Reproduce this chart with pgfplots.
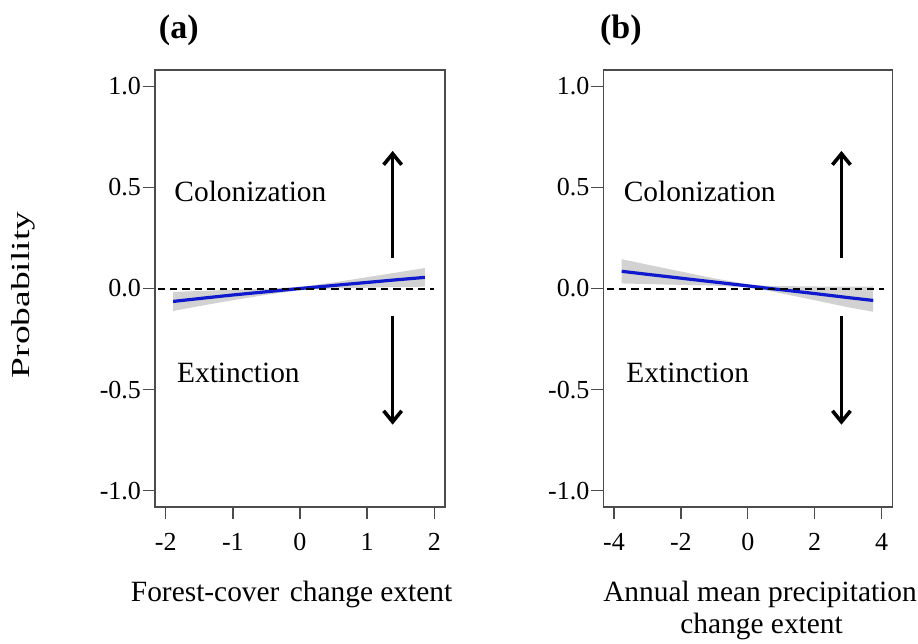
\documentclass[border=0pt]{standalone}
\usepackage{fontspec}
\setmainfont{Liberation Serif}
\usepackage{pgfplots}
\pgfplotsset{compat=1.18}
\usetikzlibrary{arrows.meta}
\definecolor{bandgray}{RGB}{210,210,210}
\definecolor{lineblue}{RGB}{15,25,205}
\tikzset{txt/.style={font=\fontsize{14.7}{17}\selectfont}}
\pgfplotsset{
  rstyle/.style={
    scale only axis, anchor=south west,
    height=218.5pt, ymin=-1.08, ymax=1.08,
    ytick={-1,-0.5,0,0.5,1}, yticklabels={-1.0,-0.5,0.0,0.5,1.0},
    tick align=outside, tick pos=left,
    major tick length=6pt,
    axis line style={black!70, line width=0.65pt},
    tick style={black!70, line width=0.65pt},
    ticklabel style={font=\fontsize{13}{15}\selectfont},
    yticklabel style={inner xsep=0.8pt},
    xticklabel style={inner ysep=0pt, yshift=-7pt},
  },
}
\begin{document}
\begin{tikzpicture}[x=1pt,y=1pt]
\path[use as bounding box] (0,0) rectangle (459,322);

% ---------- panel (a)
\begin{axis}[rstyle, at={(77.5pt,68.5pt)}, width=145pt,
  xmin=-2.16, xmax=2.16, xtick={-2,-1,0,1,2}, xticklabels={-2,-1,0,1,2}]
\addplot[fill=bandgray, draw=none] coordinates {
  (-1.89,-0.017) (-1.4,-0.011) (-1,-0.006) (-0.5,-0.001) (0,0.008)
  (0.5,0.030) (1,0.056) (1.4,0.077) (1.86,0.101)
  (1.86,0.009) (1.4,0.007) (1,0.004) (0.5,0.000) (0,-0.008)
  (-0.5,-0.031) (-1,-0.058) (-1.4,-0.081) (-1.89,-0.111)} -- cycle;
\addplot[lineblue, line width=1.6pt] coordinates {
  (-1.89,-0.064) (-1.4,-0.046) (-1,-0.032) (-0.5,-0.016) (0,0.0)
  (0.5,0.015) (1,0.030) (1.4,0.042) (1.86,0.055)};
\addplot[black, line width=1pt, dash pattern=on 3.7pt off 2.5pt] coordinates {(-2.12,0) (2.0,0)};
\addplot[black, line width=1.8pt, -{Straight Barb[length=5.5pt,width=9pt]}] coordinates {(1.38,0.15) (1.38,0.68)};
\addplot[black, line width=1.8pt, -{Straight Barb[length=5.5pt,width=9pt]}] coordinates {(1.38,-0.137) (1.38,-0.673)};
\node[txt, anchor=base west, inner sep=0pt] at (axis cs:-1.876,0.43) {Colonization};
\node[txt, anchor=base west, inner sep=0pt] at (axis cs:-1.836,-0.465) {Extinction};
\end{axis}

% ---------- panel (b)
\begin{axis}[rstyle, at={(301.65pt,68.5pt)}, width=144.5pt,
  xmin=-4.32, xmax=4.32, xtick={-4,-2,0,2,4}, xticklabels={-4,-2,0,2,4}]
\addplot[fill=bandgray, draw=none] coordinates {
  (-3.77,0.145) (-3,0.118) (-2,0.084) (-1,0.050) (0,0.021) (0.5,0.014)
  (1,0.012) (2,0.010) (3,0.009) (3.75,0.010)
  (3.75,-0.115) (3,-0.093) (2,-0.058) (1,-0.024) (0.5,-0.008) (0,0.005)
  (-1,0.014) (-2,0.018) (-3,0.022) (-3.77,0.025)} -- cycle;
\addplot[lineblue, line width=1.6pt] coordinates {
  (-3.77,0.085) (-3,0.070) (-2,0.051) (-1,0.032) (0,0.013) (0.5,0.003)
  (1,-0.006) (2,-0.025) (3,-0.045) (3.75,-0.059)};
\addplot[black, line width=1pt, dash pattern=on 3.7pt off 2.5pt] coordinates {(-4.22,0) (4.07,0)};
\addplot[black, line width=1.8pt, -{Straight Barb[length=5.5pt,width=9pt]}] coordinates {(2.8,0.15) (2.8,0.68)};
\addplot[black, line width=1.8pt, -{Straight Barb[length=5.5pt,width=9pt]}] coordinates {(2.8,-0.137) (2.8,-0.673)};
\node[txt, anchor=base west, inner sep=0pt] at (axis cs:-3.72,0.43) {Colonization};
\node[txt, anchor=base west, inner sep=0pt] at (axis cs:-3.64,-0.465) {Extinction};
\end{axis}

% ---------- titles and labels
\node[anchor=base, inner sep=0pt, font=\fontsize{17}{19}\selectfont\bfseries] at (89.4,302.9) {(a)};
\node[anchor=base, inner sep=0pt, font=\fontsize{17}{19}\selectfont\bfseries] at (310.4,302.9) {(b)};
\node[txt, anchor=base, inner sep=0pt] at (145.8,21.15) {Forest-cover\hspace{0.1em} change extent};
\node[txt, anchor=base, inner sep=0pt] at (380,21.15) {Annual mean precipitation};
\node[txt, anchor=base, inner sep=0pt] at (380.8,5) {change extent};
\node[rotate=90, inner sep=0pt, font=\fontsize{13}{15}\selectfont] at (11.5,174.5) {\scalebox{1.44}[1]{Probability}};
\end{tikzpicture}
\end{document}
